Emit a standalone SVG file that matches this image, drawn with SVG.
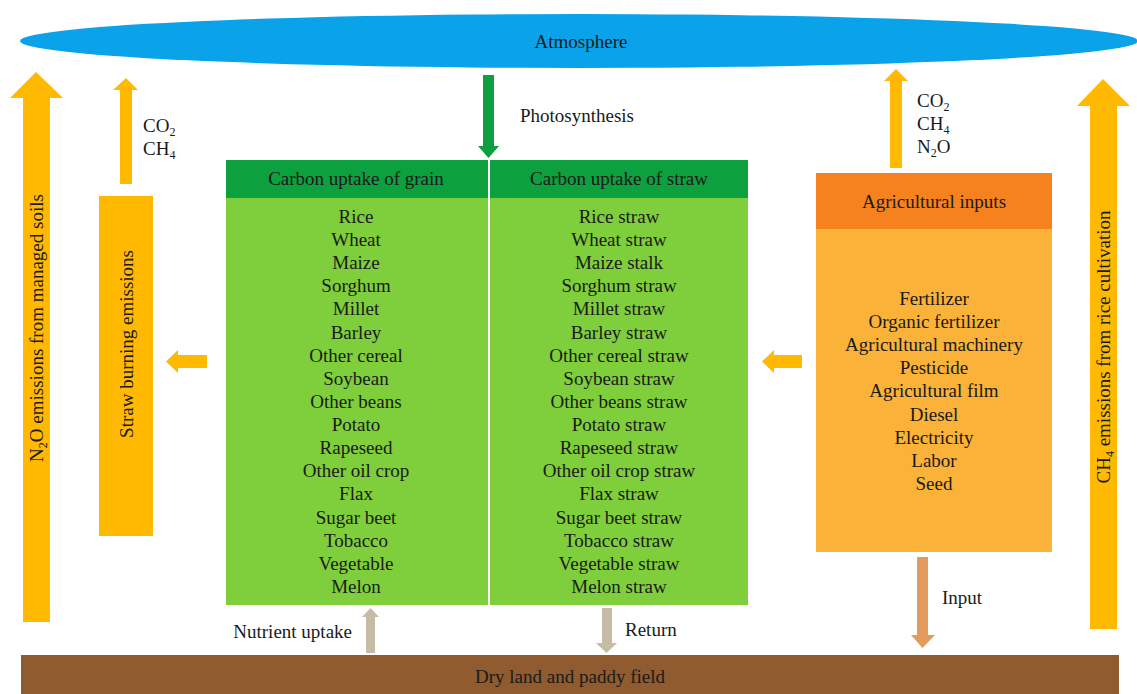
<svg xmlns="http://www.w3.org/2000/svg" width="1137" height="694" viewBox="0 0 1137 694">
<style>
text{font-family:"Liberation Serif","Times New Roman",serif;font-size:19px;fill:#1a1a1a}
.c{text-anchor:middle}
.sub{font-size:12px}
.yel{fill:#FFB900}
.gray{fill:#C6BCA6}
</style>
<rect width="1137" height="694" fill="#ffffff"/>
<g id="atmosphere">
<ellipse cx="579" cy="41" rx="559" ry="27" fill="#0AA2E8"/>
<text class="c" x="581" y="48">Atmosphere</text>
</g>
<g id="ground">
<rect x="21" y="655" width="1098" height="39" fill="#905B2E"/>
<text class="c" x="570" y="683">Dry land and paddy field</text>
</g>
<g id="grain">
<rect x="226" y="160" width="262" height="38" fill="#0DA03E"/>
<rect x="226" y="198" width="262" height="407" fill="#7FCE3B"/>
<text class="c" x="356" y="185">Carbon uptake of grain</text>
<g class="c">
<text x="356" y="223">Rice</text>
<text x="356" y="246">Wheat</text>
<text x="356" y="269">Maize</text>
<text x="356" y="292">Sorghum</text>
<text x="356" y="315">Millet</text>
<text x="356" y="339">Barley</text>
<text x="356" y="362">Other cereal</text>
<text x="356" y="385">Soybean</text>
<text x="356" y="408">Other beans</text>
<text x="356" y="431">Potato</text>
<text x="356" y="454">Rapeseed</text>
<text x="356" y="477">Other oil crop</text>
<text x="356" y="500">Flax</text>
<text x="356" y="524">Sugar beet</text>
<text x="356" y="547">Tobacco</text>
<text x="356" y="570">Vegetable</text>
<text x="356" y="593">Melon</text>
</g>
</g>
<g id="straw">
<rect x="490" y="160" width="258" height="38" fill="#0DA03E"/>
<rect x="490" y="198" width="258" height="407" fill="#7FCE3B"/>
<text class="c" x="619" y="185">Carbon uptake of straw</text>
<g class="c">
<text x="619" y="223">Rice straw</text>
<text x="619" y="246">Wheat straw</text>
<text x="619" y="269">Maize stalk</text>
<text x="619" y="292">Sorghum straw</text>
<text x="619" y="315">Millet straw</text>
<text x="619" y="339">Barley straw</text>
<text x="619" y="362">Other cereal straw</text>
<text x="619" y="385">Soybean straw</text>
<text x="619" y="408">Other beans straw</text>
<text x="619" y="431">Potato straw</text>
<text x="619" y="454">Rapeseed straw</text>
<text x="619" y="477">Other oil crop straw</text>
<text x="619" y="500">Flax straw</text>
<text x="619" y="524">Sugar beet straw</text>
<text x="619" y="547">Tobacco straw</text>
<text x="619" y="570">Vegetable straw</text>
<text x="619" y="593">Melon straw</text>
</g>
</g>
<g id="inputs">
<rect x="816" y="173" width="236" height="56" fill="#F5821F"/>
<rect x="816" y="229" width="236" height="323" fill="#FBB238"/>
<text class="c" x="934" y="208">Agricultural inputs</text>
<g class="c">
<text x="934" y="305">Fertilizer</text>
<text x="934" y="328">Organic fertilizer</text>
<text x="934" y="351">Agricultural machinery</text>
<text x="934" y="374">Pesticide</text>
<text x="934" y="397">Agricultural film</text>
<text x="934" y="421">Diesel</text>
<text x="934" y="444">Electricity</text>
<text x="934" y="467">Labor</text>
<text x="934" y="490">Seed</text>
</g>
</g>
<g id="straw-burning">
<rect x="99" y="196" width="54" height="340" fill="#FFB900"/>
<text class="c" transform="translate(133,344) rotate(-90)">Straw burning emissions</text>
</g>
<g id="connectors">
<polygon class="yel" points="23,622 23,98 10,98 36,72 63,98 50,98 50,622"/>
<text class="c" transform="translate(43,328) rotate(-90)">N<tspan class="sub" dy="4">2</tspan><tspan dy="-4">O emissions from managed soils</tspan></text>
<polygon class="yel" points="1090,629 1090,106 1077,106 1103,79 1130,106 1117,106 1117,629"/>
<text class="c" transform="translate(1110,347) rotate(-90)">CH<tspan class="sub" dy="4">4</tspan><tspan dy="-4"> emissions from rice cultivation</tspan></text>
<polygon class="yel" points="120,184 120,90 113,90 126,78 138,90 132,90 132,184"/>
<text x="143" y="132">CO<tspan class="sub" dy="4">2</tspan></text>
<text x="143" y="155">CH<tspan class="sub" dy="4">4</tspan></text>
<polygon class="yel" points="890,168 890,81 884,81 896,69 908,81 902,81 902,168"/>
<text x="917" y="107">CO<tspan class="sub" dy="4">2</tspan></text>
<text x="917" y="130">CH<tspan class="sub" dy="4">4</tspan></text>
<text x="917" y="153">N<tspan class="sub" dy="4">2</tspan><tspan dy="-4">O</tspan></text>
<polygon fill="#0DA03E" points="483,75 494,75 494,146 499,146 488.5,158 478,146 483,146"/>
<text x="520" y="122">Photosynthesis</text>
<polygon class="yel" points="207,355 178,355 178,350 166,361.5 178,373 178,368 207,368"/>
<polygon class="yel" points="802,355 774,355 774,350 762,361.5 774,373 774,368 802,368"/>
<polygon fill="#E49C5C" points="917,557 928,557 928,635 935,635 922.5,648 911,635 917,635"/>
<text x="942" y="604">Input</text>
<polygon class="gray" points="366,653 366,617 362,617 370.5,608 379,617 375,617 375,653"/>
<text x="352" y="638" text-anchor="end">Nutrient uptake</text>
<polygon class="gray" points="602,608 612,608 612,643 617,643 606.5,653 596,643 602,643"/>
<text x="625" y="636">Return</text>
</g>
</svg>
